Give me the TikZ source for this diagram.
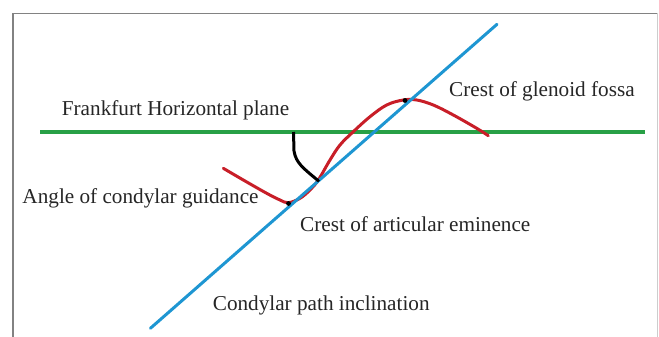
\documentclass[tikz,border=0pt]{standalone}
\usepackage{fontspec}
\setmainfont{Liberation Serif}
\definecolor{fhgreen}{RGB}{40,160,70}
\definecolor{cpblue}{RGB}{30,150,210}
\definecolor{crred}{RGB}{200,30,40}
\definecolor{framegray}{RGB}{130,130,130}
\begin{document}
\begin{tikzpicture}[x=1pt,y=-1pt,
  lbl/.style={anchor=base west,inner sep=0pt,font=\fontsize{21.2}{24}\selectfont,text=black!85},
  fhline/.style={draw=fhgreen,line width=4pt},
  cpline/.style={draw=cpblue,line width=3pt,line cap=round},
  crcurve/.style={draw=crred,line width=3pt,line cap=round,line join=round},
  angmark/.style={draw=black,line width=3pt,line join=round},
  dotmark/.style={fill=black}]
\useasboundingbox (0,0) rectangle (659,337);
\fill[white] (0,0) rectangle (659,337);
% frame
\coordinate (ftl) at (13,13.5);
\coordinate (ftr) at (657.5,13.5);
\coordinate (fbl) at (13,337);
\coordinate (fbr) at (657.5,337);
\draw[framegray,line width=1.6pt] (fbl) -- (ftl) -- (ftr);
\draw[framegray!40,line width=0.8pt] (ftr) -- (fbr);
% Frankfurt horizontal plane
\coordinate (fh1) at (40,131.5);
\coordinate (fh2) at (645,131.5);
\draw[fhline] (fh1) -- (fh2);
% red curve
\draw[crcurve] plot[smooth,tension=0.6] coordinates {
 (223.3,168.3) (243.3,180) (266.7,193.3) (280,200) (288.3,202.7)
 (300,198.3) (310,190) (318.3,180) (330,160) (340,145) (353.3,131.7)
 (370,116.7) (386.7,105) (403.3,100) (416.7,100) (433.3,105)
 (453.3,115) (476.7,128.3) (488.3,135.7)};
% condylar path line
\coordinate (cp1) at (150.4,328.3);
\coordinate (cp2) at (497,24.3);
\draw[cpline] (cp1) -- (cp2);
% angle mark
\coordinate (a1) at (293.5,132);
\coordinate (a2) at (318,180.5);
\draw[angmark] (a1) -- (294,151) .. controls (296,163) and (303,168) .. (a2);
% dots
\coordinate (d1) at (288.5,203.5);
\coordinate (d2) at (405,100.5);
\fill[dotmark] (d1) circle (2.4);
\fill[dotmark] (d2) circle (2.4);
\fill[dotmark] (a2) circle (1.8);
% labels
\node[lbl] (fhp) at (61.7,115) {Frankfurt Horizontal plane};
\node[lbl] (cgf) at (449,96.5) {Crest of glenoid fossa};
\node[lbl] (acg) at (22.3,203) {Angle of condylar guidance};
\node[lbl] (cae) at (300,231.5) {Crest of articular eminence};
\node[lbl] (cpi) at (212.7,310) {Condylar path inclination};
\end{tikzpicture}
\end{document}
